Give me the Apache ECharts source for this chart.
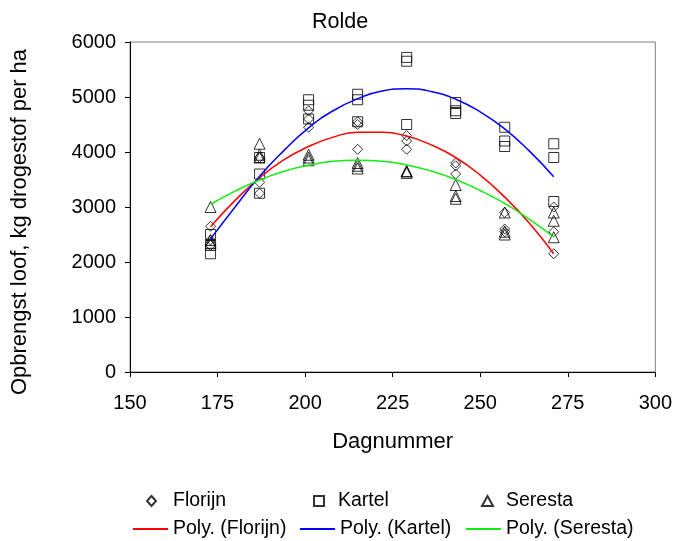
<!DOCTYPE html>
<html><head><meta charset="utf-8">
<script src="https://cdn.jsdelivr.net/npm/echarts@6/dist/echarts.min.js"></script>
<style>html,body{margin:0;padding:0;background:#fff}#c{width:675px;height:541px}</style>
</head><body><div id="c"></div>
<script>
var days = [173, 187, 201, 215, 229, 243, 257, 271];
var florijn = [
  [2650, 2400, 2300], [3900, 3450, 3250], [4750, 4600, 4450], [4550, 4500, 4050],
  [4300, 4200, 4050], [3800, 3750, 3600], [2900, 2600, 2550], [3000, 2550, 2150]
];
var kartel = [
  [2500, 2300, 2150], [3900, 3600, 3250], [4950, 4850, 4600], [5050, 4950, 4550],
  [5720, 5650, 4500], [4900, 4750, 4700], [4450, 4200, 4100], [4150, 3900, 3100]
];
var seresta = [
  [3000, 2400, 2350], [4150, 3950, 3900], [3950, 3900, 3850], [3800, 3750, 3700],
  [3650, 3650, 3620], [3400, 3200, 3150], [2900, 2550, 2500], [2900, 2750, 2450]
];
var trendDays = [173, 180, 187, 194, 201, 208, 215, 222, 229, 236, 243, 250, 257, 264, 271];
var trendFlorijn = [2640, 3120, 3530, 3860, 4100, 4270, 4360, 4360, 4290, 4130, 3900, 3580, 3180, 2710, 2150];
var trendKartel = [2420, 3000, 3560, 4030, 4440, 4750, 4970, 5110, 5150, 5100, 4960, 4730, 4420, 4020, 3550];
var trendSeresta = [3050, 3290, 3490, 3650, 3760, 3830, 3850, 3830, 3765, 3655, 3500, 3300, 3065, 2780, 2455];
var xTicks = [150, 175, 200, 225, 250, 275, 300];
var yTicks = [0, 1000, 2000, 3000, 4000, 5000, 6000];

function pts(vals) {
  var out = [];
  days.forEach(function (d, i) { vals[i].forEach(function (v) { out.push([d, v]); }); });
  return out;
}
function line(vals) { return trendDays.map(function (d, i) { return [d, vals[i]]; }); }

var FONT = 'Liberation Sans';
var txt = { fontFamily: FONT, fontSize: 20, color: '#000' };
var mk = { color: 'rgba(0,0,0,0)', borderColor: '#000', borderWidth: 1 };

function scat(name, sym, size, data) {
  return { name: name, type: 'scatter', symbol: sym, symbolSize: size, data: data,
    itemStyle: mk, silent: true, z: 2 };
}
function trend(name, color, data) {
  return { name: name, type: 'line', data: data, smooth: true, symbol: 'none', showSymbol: false,
    lineStyle: { color: color, width: 1.5 }, itemStyle: { color: color }, z: 3, silent: true };
}
function leg(name, left, top, icon, w, h, pad) {
  return { data: [name], left: left, top: top, padding: 0, itemWidth: w, itemHeight: h, icon: icon,
    textStyle: { fontFamily: FONT, fontSize: 19.5, color: '#000', padding: [0, 0, 0, pad] },
    selectedMode: false };
}

var chart = echarts.init(document.getElementById('c'), null, { renderer: 'canvas' });
chart.setOption({
  animation: false,
  backgroundColor: '#fff',
  title: { text: 'Rolde', left: 335, top: 6, textAlign: 'center',
    textStyle: { fontFamily: FONT, fontSize: 21.5, fontWeight: 'normal', color: '#000' } },
  grid: { left: 130, right: 19, top: 42, bottom: 169, show: true, borderColor: '#808080', borderWidth: 1 },
  graphic: [{
    type: 'text', x: 20, y: 222, rotation: Math.PI / 2,
    style: { text: 'Opbrengst loof, kg drogestof per ha', fontFamily: FONT, fontSize: 22, fill: '#000',
      align: 'center', verticalAlign: 'middle' }
  }],
  xAxis: {
    type: 'value', min: xTicks[0], max: xTicks[xTicks.length - 1], interval: 25,
    name: 'Dagnummer', nameLocation: 'middle', nameGap: 59,
    nameTextStyle: Object.assign({}, txt, { fontSize: 22 }),
    axisLine: { show: true, lineStyle: { color: '#000' } },
    axisTick: { show: true, inside: false, length: 5, lineStyle: { color: '#000' } },
    axisLabel: Object.assign({ margin: 21 }, txt),
    splitLine: { show: false }
  },
  yAxis: {
    type: 'value', min: yTicks[0], max: yTicks[yTicks.length - 1], interval: 1000,
    axisLine: { show: true, lineStyle: { color: '#000' } },
    axisTick: { show: true, inside: false, length: 5, lineStyle: { color: '#000' } },
    axisLabel: Object.assign({ margin: 14, formatter: function (v) { return String(v); } }, txt),
    splitLine: { show: false }
  },
  legend: [
    leg('Florijn', 146, 491, 'diamond', 9, 10, 12),
    leg('Kartel', 313, 491, 'rect', 10, 10, 9),
    leg('Seresta', 481, 491, 'triangle', 11, 10, 8),
    leg('Poly. (Florijn)', 133, 519, 'rect', 35, 2, 0),
    leg('Poly. (Kartel)', 300, 519, 'rect', 35, 2, 0),
    leg('Poly. (Seresta)', 466, 519, 'rect', 35, 2, 0)
  ],
  series: [
    scat('Florijn', 'diamond', 10, pts(florijn)),
    scat('Kartel', 'rect', 10, pts(kartel)),
    scat('Seresta', 'triangle', 11, pts(seresta)),
    trend('Poly. (Florijn)', '#ff0000', line(trendFlorijn)),
    trend('Poly. (Kartel)', '#0000ff', line(trendKartel)),
    trend('Poly. (Seresta)', '#11ee11', line(trendSeresta))
  ]
});
</script></body></html>
